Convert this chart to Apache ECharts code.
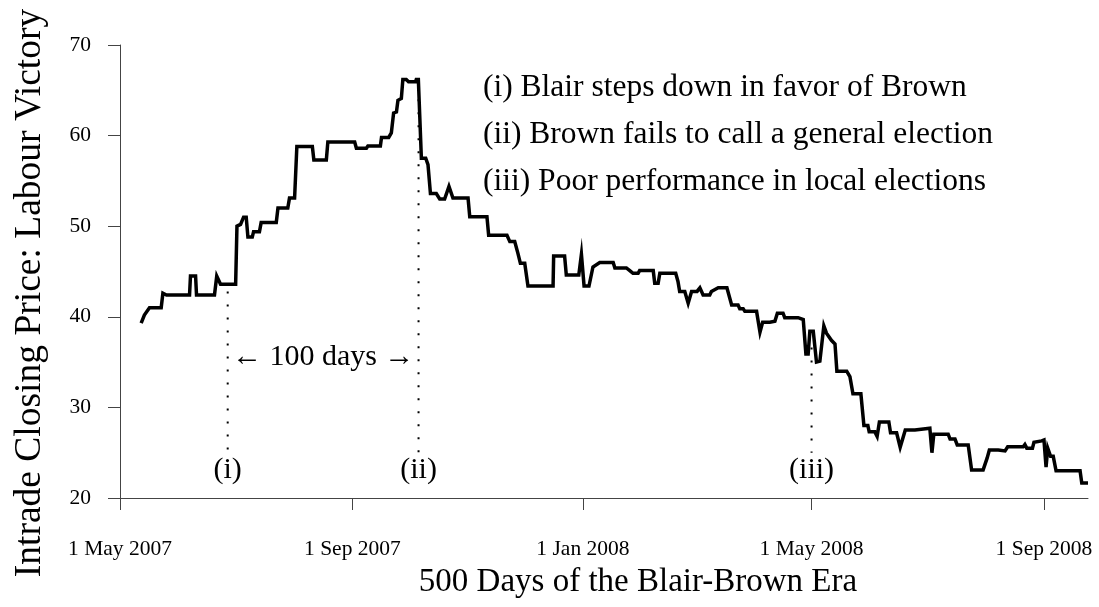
<!DOCTYPE html>
<html>
<head>
<meta charset="utf-8">
<script src="https://cdn.jsdelivr.net/npm/echarts@6/dist/echarts.min.js"></script>
<style>
  html, body { margin: 0; padding: 0; background: #fff; }
  #chart { width: 1099px; height: 607px; }
</style>
</head>
<body>
<div id="chart"></div>
<script>
// x = days since 1 May 2007, y = Intrade closing price
const tickDays = [0, 123, 245, 366, 489];
const tickLabels = ['1 May 2007', '1 Sep 2007', '1 Jan 2008', '1 May 2008', '1 Sep 2008'];

const days = [
  11.2, 12.9, 15.6, 21.8, 22.7, 24.6, 36.8, 37.3, 40.0, 40.5,
  50.0, 51.2, 53.2, 61.2, 61.9, 63.8, 65.4, 66.8, 67.7, 70.0,
  70.7, 73.8, 74.7, 82.7, 83.6, 88.8, 89.7, 92.4, 93.6, 101.8,
  102.6, 109.2, 110.0, 124.2, 125.1, 130.4, 131.2, 137.8, 138.4, 142.2,
  143.6, 144.8, 146.3, 147.1, 148.9, 149.7, 151.5, 152.7, 156.4, 156.8,
  157.9, 159.5, 161.8, 163.0, 164.3, 167.4, 169.2, 171.8, 174.1, 176.2,
  184.2, 185.1, 194.2, 195.1, 204.8, 206.3, 208.9, 210.6, 211.9, 214.2,
  215.9, 229.2, 229.5, 235.3, 236.2, 242.8, 244.2, 245.6, 248.2, 250.3,
  253.9, 261.0, 261.9, 268.0, 269.8, 271.5, 274.2, 275.0, 282.2, 283.0,
  284.8, 285.7, 294.1, 295.3, 296.2, 298.9, 300.7, 302.5, 305.4, 306.9,
  308.6, 312.1, 313.0, 316.6, 321.2, 323.7, 327.1, 328.0, 329.8, 330.7,
  336.9, 338.7, 340.1, 343.9, 346.6, 347.9, 350.9, 351.8, 358.9, 359.8,
  361.6, 363.0, 364.2, 365.1, 366.9, 368.6, 370.4, 372.5, 373.9, 376.5,
  378.4, 379.4, 384.6, 386.3, 387.9, 392.1, 393.7, 395.8, 396.5, 399.5,
  400.7, 401.9, 406.9, 407.8, 411.0, 412.9, 415.6, 420.7, 421.6, 428.6,
  429.7, 430.7, 438.3, 439.3, 441.9, 443.1, 448.9, 450.7, 456.8, 458.9,
  460.1, 464.8, 465.7, 468.4, 469.8, 478.0, 478.9, 479.9, 482.9, 483.7,
  487.8, 489.0, 490.1, 491.0, 492.5, 493.9, 495.4, 508.1, 509.0, 512.3
];

const prices = [
  39.3, 40.2, 41.0, 41.0, 42.6, 42.4, 42.4, 44.5, 44.5, 42.4,
  42.4, 44.5, 43.6, 43.6, 50.0, 50.2, 51.0, 51.0, 48.8, 48.8,
  49.4, 49.4, 50.4, 50.4, 52.0, 52.0, 53.1, 53.1, 58.8, 58.8,
  57.3, 57.3, 59.3, 59.3, 58.6, 58.6, 58.85, 58.85, 59.8, 59.8,
  60.3, 62.5, 62.6, 63.9, 64.1, 66.2, 66.2, 65.95, 65.95, 66.2,
  66.2, 57.5, 57.5, 56.8, 53.6, 53.6, 53.0, 53.0, 54.4, 53.1,
  53.1, 51.05, 51.05, 49.0, 49.0, 48.3, 48.3, 47.0, 45.9, 45.9,
  43.4, 43.4, 46.7, 46.7, 44.6, 44.6, 46.9, 43.4, 43.4, 45.5,
  46.0, 46.0, 45.4, 45.4, 45.1, 44.8, 44.8, 45.1, 45.1, 43.7,
  43.7, 44.8, 44.8, 43.9, 42.8, 42.8, 41.5, 42.8, 42.8, 43.2,
  42.4, 42.4, 42.8, 43.2, 43.2, 41.3, 41.3, 40.9, 40.9, 40.6,
  40.6, 38.3, 39.4, 39.4, 39.5, 40.4, 40.4, 39.9, 39.9, 40.1,
  39.7, 35.9, 35.9, 38.4, 38.4, 35.0, 35.1, 39.0, 38.2, 37.4,
  37.0, 34.0, 34.0, 33.4, 31.5, 31.5, 28.0, 28.0, 27.3, 27.3,
  26.8, 28.4, 28.4, 27.2, 27.2, 25.6, 27.5, 27.5, 27.7, 27.7,
  25.0, 27.05, 27.05, 26.5, 26.5, 25.85, 25.85, 23.1, 23.1, 24.4,
  25.3, 25.3, 25.2, 25.2, 25.65, 25.65, 25.9, 25.5, 25.5, 26.15,
  26.3, 26.4, 23.4, 25.5, 24.6, 24.6, 23.0, 23.0, 21.65, 21.65
];

// events marked with dotted lines
const eventDays = [57, 158, 366];
const eventTops = [42.8, 64, 36.6];
const eventLabels = ['(i)', '(ii)', '(iii)'];
const dottedBottom = 25;
const eventLabelY = 23.1;

const notes = [
  '(i) Blair steps down in favor of Brown',
  '(ii) Brown fails to call a general election',
  '(iii) Poor performance in local elections'
];

const font = 'Liberation Serif';
const axisColor = '#444';

const chart = echarts.init(document.getElementById('chart'));

const priceData = days.map((d, i) => [d, prices[i]]);

const dottedSeries = eventDays.map((d, i) => ({
  type: 'line',
  data: [[d, eventTops[i]], [d, dottedBottom]],
  showSymbol: false,
  silent: true,
  lineStyle: { color: '#000', width: 2, type: [2, 11], cap: 'butt' },
  z: 1
}));

const textLabel = {
  show: true, position: 'inside', formatter: p => p.name,
  color: '#000', fontFamily: font, fontSize: 30
};

const option = {
  animation: false,
  backgroundColor: '#fff',
  grid: { left: 120, right: 11, top: 45, bottom: 109, outerBoundsMode: 'none' },
  xAxis: {
    type: 'value',
    min: 0,
    max: 512.3,
    splitLine: { show: false },
    axisLine: { show: true, lineStyle: { color: axisColor, width: 1 } },
    axisTick: { show: true, customValues: tickDays, length: 12, lineStyle: { color: axisColor } },
    axisLabel: {
      customValues: tickDays,
      margin: 40,
      color: '#000',
      fontFamily: font,
      fontSize: 21.5,
      formatter: v => tickLabels[tickDays.indexOf(v)]
    }
  },
  yAxis: {
    type: 'value',
    min: 20,
    max: 70,
    interval: 10,
    splitLine: { show: false },
    axisLine: { show: true, lineStyle: { color: axisColor, width: 1 } },
    axisTick: { show: true, length: 12, lineStyle: { color: axisColor } },
    axisLabel: { margin: 29, color: '#000', fontFamily: font, fontSize: 21.5 }
  },
  graphic: [
    {
      type: 'text', x: 30, y: 293, rotation: Math.PI / 2,
      style: {
        text: 'Intrade Closing Price: Labour Victory', fill: '#000',
        font: '37.5px "Liberation Serif"', align: 'center', verticalAlign: 'middle'
      }
    },
    {
      type: 'text', x: 638, y: 582,
      style: {
        text: '500 Days of the Blair-Brown Era', fill: '#000',
        font: '33px "Liberation Serif"', align: 'center', verticalAlign: 'middle'
      }
    }
  ].concat(notes.map((t, i) => ({
    type: 'text', x: 483, y: 88 + i * 47,
    style: { text: t, fill: '#000', font: '31.5px "Liberation Serif"', align: 'left', verticalAlign: 'middle' }
  }))),
  series: [
    {
      type: 'line',
      data: priceData,
      showSymbol: false,
      lineStyle: { color: '#000', width: 3.5, join: 'miter' },
      z: 3
    }
  ].concat(dottedSeries).concat([
    {
      type: 'scatter',
      symbolSize: 0,
      silent: true,
      itemStyle: { opacity: 1, color: 'transparent' },
      data: eventDays.map((d, i) => ({ value: [d, eventLabelY], name: eventLabels[i] })),
      label: textLabel
    },
    {
      type: 'scatter',
      symbolSize: 0,
      silent: true,
      itemStyle: { opacity: 1, color: 'transparent' },
      data: [{ value: [(eventDays[0] + eventDays[1]) / 2, 35.6], name: '\u2190 100 days \u2192' }],
      label: textLabel
    }
  ])
};

chart.setOption(option);
</script>
</body>
</html>
